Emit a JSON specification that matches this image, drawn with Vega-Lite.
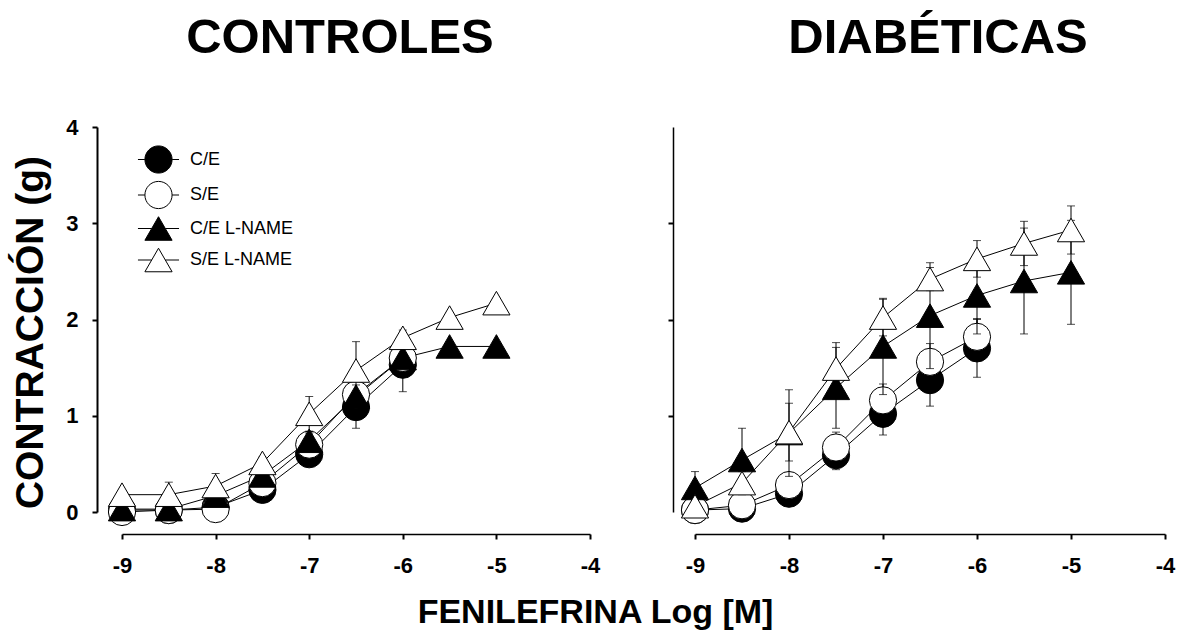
{
  "$schema": "https://vega.github.io/schema/vega-lite/v6.json",
  "autosize": {"type": "pad"},
  "padding": {"left": 11, "top": 14, "right": 5, "bottom": 5},
  "background": "white",
  "datasets": {
    "curves": [
      {"panel": "CONTROLES", "series": "C/E", "logM": -9, "g": 0.02, "se": 0.01},
      {"panel": "CONTROLES", "series": "C/E", "logM": -8.5, "g": 0.02, "se": 0.01},
      {"panel": "CONTROLES", "series": "C/E", "logM": -8, "g": 0.05, "se": 0.02},
      {"panel": "CONTROLES", "series": "C/E", "logM": -7.5, "g": 0.23, "se": 0.05},
      {"panel": "CONTROLES", "series": "C/E", "logM": -7, "g": 0.60, "se": 0.07},
      {"panel": "CONTROLES", "series": "C/E", "logM": -6.5, "g": 1.09, "se": 0.22},
      {"panel": "CONTROLES", "series": "C/E", "logM": -6, "g": 1.53, "se": 0.28},
      {"panel": "CONTROLES", "series": "S/E", "logM": -9, "g": 0.00, "se": 0.02},
      {"panel": "CONTROLES", "series": "S/E", "logM": -8.5, "g": 0.02, "se": 0.02},
      {"panel": "CONTROLES", "series": "S/E", "logM": -8, "g": 0.03, "se": 0.07},
      {"panel": "CONTROLES", "series": "S/E", "logM": -7.5, "g": 0.30, "se": 0.05},
      {"panel": "CONTROLES", "series": "S/E", "logM": -7, "g": 0.70, "se": 0.08},
      {"panel": "CONTROLES", "series": "S/E", "logM": -6.5, "g": 1.22, "se": 0.10},
      {"panel": "CONTROLES", "series": "S/E", "logM": -6, "g": 1.60, "se": 0.10},
      {"panel": "CONTROLES", "series": "C/E L-NAME", "logM": -9, "g": 0.03, "se": 0.02},
      {"panel": "CONTROLES", "series": "C/E L-NAME", "logM": -8.5, "g": 0.03, "se": 0.02},
      {"panel": "CONTROLES", "series": "C/E L-NAME", "logM": -8, "g": 0.17, "se": 0.05},
      {"panel": "CONTROLES", "series": "C/E L-NAME", "logM": -7.5, "g": 0.38, "se": 0.06},
      {"panel": "CONTROLES", "series": "C/E L-NAME", "logM": -7, "g": 0.74, "se": 0.08},
      {"panel": "CONTROLES", "series": "C/E L-NAME", "logM": -6.5, "g": 1.20, "se": 0.12},
      {"panel": "CONTROLES", "series": "C/E L-NAME", "logM": -6, "g": 1.60, "se": 0.10},
      {"panel": "CONTROLES", "series": "C/E L-NAME", "logM": -5.5, "g": 1.72, "se": 0.05},
      {"panel": "CONTROLES", "series": "C/E L-NAME", "logM": -5, "g": 1.72, "se": 0.05},
      {"panel": "CONTROLES", "series": "S/E L-NAME", "logM": -9, "g": 0.18, "se": 0.05},
      {"panel": "CONTROLES", "series": "S/E L-NAME", "logM": -8.5, "g": 0.18, "se": 0.13},
      {"panel": "CONTROLES", "series": "S/E L-NAME", "logM": -8, "g": 0.27, "se": 0.13},
      {"panel": "CONTROLES", "series": "S/E L-NAME", "logM": -7.5, "g": 0.51, "se": 0.06},
      {"panel": "CONTROLES", "series": "S/E L-NAME", "logM": -7, "g": 1.02, "se": 0.18},
      {"panel": "CONTROLES", "series": "S/E L-NAME", "logM": -6.5, "g": 1.47, "se": 0.30},
      {"panel": "CONTROLES", "series": "S/E L-NAME", "logM": -6, "g": 1.81, "se": 0.08},
      {"panel": "CONTROLES", "series": "S/E L-NAME", "logM": -5.5, "g": 2.02, "se": 0.05},
      {"panel": "CONTROLES", "series": "S/E L-NAME", "logM": -5, "g": 2.17, "se": 0.05},
      {"panel": "DIABÉTICAS", "series": "C/E", "logM": -9, "g": 0.02, "se": 0.02},
      {"panel": "DIABÉTICAS", "series": "C/E", "logM": -8.5, "g": 0.035, "se": 0.03},
      {"panel": "DIABÉTICAS", "series": "C/E", "logM": -8, "g": 0.19, "se": 0.05},
      {"panel": "DIABÉTICAS", "series": "C/E", "logM": -7.5, "g": 0.59, "se": 0.15},
      {"panel": "DIABÉTICAS", "series": "C/E", "logM": -7, "g": 1.02, "se": 0.22},
      {"panel": "DIABÉTICAS", "series": "C/E", "logM": -6.5, "g": 1.37, "se": 0.27},
      {"panel": "DIABÉTICAS", "series": "C/E", "logM": -6, "g": 1.70, "se": 0.30},
      {"panel": "DIABÉTICAS", "series": "S/E", "logM": -9, "g": 0.02, "se": 0.02},
      {"panel": "DIABÉTICAS", "series": "S/E", "logM": -8.5, "g": 0.07, "se": 0.03},
      {"panel": "DIABÉTICAS", "series": "S/E", "logM": -8, "g": 0.28, "se": 0.07},
      {"panel": "DIABÉTICAS", "series": "S/E", "logM": -7.5, "g": 0.67, "se": 0.16},
      {"panel": "DIABÉTICAS", "series": "S/E", "logM": -7, "g": 1.16, "se": 0.17},
      {"panel": "DIABÉTICAS", "series": "S/E", "logM": -6.5, "g": 1.56, "se": 0.19},
      {"panel": "DIABÉTICAS", "series": "S/E", "logM": -6, "g": 1.82, "se": 0.19},
      {"panel": "DIABÉTICAS", "series": "C/E L-NAME", "logM": -9, "g": 0.25, "se": 0.17},
      {"panel": "DIABÉTICAS", "series": "C/E L-NAME", "logM": -8.5, "g": 0.54, "se": 0.33},
      {"panel": "DIABÉTICAS", "series": "C/E L-NAME", "logM": -8, "g": 0.82, "se": 0.45},
      {"panel": "DIABÉTICAS", "series": "C/E L-NAME", "logM": -7.5, "g": 1.29, "se": 0.42},
      {"panel": "DIABÉTICAS", "series": "C/E L-NAME", "logM": -7, "g": 1.72, "se": 0.50},
      {"panel": "DIABÉTICAS", "series": "C/E L-NAME", "logM": -6.5, "g": 2.04, "se": 0.55},
      {"panel": "DIABÉTICAS", "series": "C/E L-NAME", "logM": -6, "g": 2.25, "se": 0.40},
      {"panel": "DIABÉTICAS", "series": "C/E L-NAME", "logM": -5.5, "g": 2.40, "se": 0.55},
      {"panel": "DIABÉTICAS", "series": "C/E L-NAME", "logM": -5, "g": 2.49, "se": 0.54},
      {"panel": "DIABÉTICAS", "series": "S/E L-NAME", "logM": -9, "g": 0.06, "se": 0.03},
      {"panel": "DIABÉTICAS", "series": "S/E L-NAME", "logM": -8.5, "g": 0.30, "se": 0.12},
      {"panel": "DIABÉTICAS", "series": "S/E L-NAME", "logM": -8, "g": 0.83, "se": 0.30},
      {"panel": "DIABÉTICAS", "series": "S/E L-NAME", "logM": -7.5, "g": 1.49, "se": 0.27},
      {"panel": "DIABÉTICAS", "series": "S/E L-NAME", "logM": -7, "g": 2.02, "se": 0.19},
      {"panel": "DIABÉTICAS", "series": "S/E L-NAME", "logM": -6.5, "g": 2.42, "se": 0.12},
      {"panel": "DIABÉTICAS", "series": "S/E L-NAME", "logM": -6, "g": 2.63, "se": 0.19},
      {"panel": "DIABÉTICAS", "series": "S/E L-NAME", "logM": -5.5, "g": 2.79, "se": 0.23},
      {"panel": "DIABÉTICAS", "series": "S/E L-NAME", "logM": -5, "g": 2.93, "se": 0.25}
    ]
  },
  "data": {"name": "curves"},
  "bounds": "flush",
  "spacing": 105,
  "resolve": {"scale": {"fill": "independent", "shape": "independent", "stroke": "independent"}},
  "hconcat": [
    {
      "width": 468,
      "height": 385,
      "title": {"text": "CONTROLES", "dx": -16, "frame": "group", "anchor": "middle", "offset": 53, "font": "Liberation Sans", "fontSize": 49, "fontWeight": "bold", "color": "black"},
      "transform": [{"filter": "datum.panel === 'CONTROLES'"}],
      "encoding": {
        "x": {"field": "logM", "type": "quantitative", "scale": {"domain": [-9, -4]},
              "axis": {"values": [-9, -8, -7, -6, -5, -4], "labelExpr": "'' + datum.value", "offset": 22, "labelPadding": 16,
                       "title": "FENILEFRINA Log [M]", "titleFontSize": 34, "titleX": 473, "titleY": 88, "titleAlign": "center", "titleBaseline": "alphabetic", "titleAngle": 0}},
        "y": {"field": "g", "type": "quantitative", "scale": {"domain": [0, 4]},
              "axis": {"values": [0, 1, 2, 3, 4], "format": "d", "offset": 25, "labelPadding": 14, "domainWidth": 2,
                       "title": "CONTRACCIÓN (g)", "titleFontSize": 39, "titleX": -55, "titleY": 205, "titleAngle": -90, "titleAlign": "center", "titleBaseline": "alphabetic"}}
      },
      "layer": [
        {"mark": {"type": "point", "filled": true, "opacity": 0, "size": 740},
         "encoding": {
           "shape": {"field": "series", "type": "nominal", "scale": {"domain": ["C/E", "S/E", "C/E L-NAME", "S/E L-NAME"],
                     "range": ["M-1.51,0L-1,0M1,0L1.51,0M1,0A1,1,0,1,1,-1,0A1,1,0,1,1,1,0Z", "M-1.51,0L-1,0M1,0L1.51,0M1,0A1,1,0,1,1,-1,0A1,1,0,1,1,1,0Z", "M-1.51,0L-0.5,0M0.5,0L1.51,0M0,-0.866L-1,0.866L1,0.866Z", "M-1.51,0L-0.5,0M0.5,0L1.51,0M0,-0.866L-1,0.866L1,0.866Z"]},
                     "legend": {"orient": "none", "legendX": 22, "legendY": 18, "title": null, "symbolSize": 740, "labelOffset": 17, "rowPadding": 2.5, "padding": 0, "symbolStrokeColor": "black", "symbolStrokeWidth": 1, "symbolOpacity": 1}},
           "fill": {"field": "series", "type": "nominal", "scale": {"domain": ["C/E", "S/E", "C/E L-NAME", "S/E L-NAME"], "range": ["black", "white", "black", "white"]},
                    "legend": {"orient": "none", "legendX": 22, "legendY": 18, "title": null, "symbolSize": 740, "labelOffset": 17, "rowPadding": 2.5, "padding": 0, "symbolStrokeColor": "black", "symbolStrokeWidth": 1, "symbolOpacity": 1}},
           "stroke": {"field": "series", "type": "nominal", "scale": {"domain": ["C/E", "S/E", "C/E L-NAME", "S/E L-NAME"], "range": ["black", "black", "black", "black"]},
                      "legend": {"orient": "none", "legendX": 22, "legendY": 18, "title": null, "symbolSize": 740, "labelOffset": 17, "rowPadding": 2.5, "padding": 0, "symbolStrokeColor": "black", "symbolStrokeWidth": 1, "symbolOpacity": 1}}
         }},
        {"mark": {"type": "line", "color": "black", "strokeWidth": 1}, "encoding": {"detail": {"field": "series"}}},
        {"transform": [{"filter": "datum.series === 'C/E'"}], "mark": {"type": "errorbar", "ticks": true, "color": "black", "thickness": 1, "size": 8}, "encoding": {"yError": {"field": "se"}}},
        {"transform": [{"filter": "datum.series === 'C/E'"}], "mark": {"type": "point", "shape": "circle", "filled": true, "size": 740, "stroke": "black", "strokeWidth": 1, "opacity": 1},
         "encoding": {"fill": {"field": "series", "type": "nominal"}}},
        {"transform": [{"filter": "datum.series === 'S/E'"}], "mark": {"type": "errorbar", "ticks": true, "color": "black", "thickness": 1, "size": 8}, "encoding": {"yError": {"field": "se"}}},
        {"transform": [{"filter": "datum.series === 'S/E'"}], "mark": {"type": "point", "shape": "circle", "filled": true, "size": 740, "stroke": "black", "strokeWidth": 1, "opacity": 1},
         "encoding": {"fill": {"field": "series", "type": "nominal"}}},
        {"transform": [{"filter": "datum.series === 'C/E L-NAME'"}], "mark": {"type": "errorbar", "ticks": true, "color": "black", "thickness": 1, "size": 8}, "encoding": {"yError": {"field": "se"}}},
        {"transform": [{"filter": "datum.series === 'C/E L-NAME'"}], "mark": {"type": "point", "shape": "triangle-up", "filled": true, "size": 740, "stroke": "black", "strokeWidth": 1, "opacity": 1},
         "encoding": {"fill": {"field": "series", "type": "nominal"}}},
        {"transform": [{"filter": "datum.series === 'S/E L-NAME'"}], "mark": {"type": "errorbar", "ticks": true, "color": "black", "thickness": 1, "size": 8}, "encoding": {"yError": {"field": "se"}}},
        {"transform": [{"filter": "datum.series === 'S/E L-NAME'"}], "mark": {"type": "point", "shape": "triangle-up", "filled": true, "size": 740, "stroke": "black", "strokeWidth": 1, "opacity": 1},
         "encoding": {"fill": {"field": "series", "type": "nominal"}}}
      ]
    },
    {
      "width": 470,
      "height": 385,
      "title": {"text": "DIABÉTICAS", "dx": 8, "frame": "group", "anchor": "middle", "offset": 64, "font": "Liberation Sans", "fontSize": 49, "fontWeight": "bold", "color": "black"},
      "transform": [{"filter": "datum.panel === 'DIABÉTICAS'"}],
      "encoding": {
        "x": {"field": "logM", "type": "quantitative", "scale": {"domain": [-9, -4]},
              "axis": {"values": [-9, -8, -7, -6, -5, -4], "labelExpr": "'' + datum.value", "offset": 22, "labelPadding": 16, "title": null}},
        "y": {"field": "g", "type": "quantitative", "scale": {"domain": [0, 4]},
              "axis": {"values": [1, 2, 3], "labels": false, "offset": 22, "title": null}}
      },
      "layer": [
        {"mark": {"type": "line", "color": "black", "strokeWidth": 1}, "encoding": {"detail": {"field": "series"}}},
        {"transform": [{"filter": "datum.series === 'C/E'"}], "mark": {"type": "errorbar", "ticks": true, "color": "black", "thickness": 1, "size": 8}, "encoding": {"yError": {"field": "se"}}},
        {"transform": [{"filter": "datum.series === 'C/E'"}], "mark": {"type": "point", "shape": "circle", "filled": true, "size": 740, "stroke": "black", "strokeWidth": 1, "opacity": 1},
         "encoding": {"fill": {"field": "series", "type": "nominal", "scale": {"domain": ["C/E", "S/E", "C/E L-NAME", "S/E L-NAME"], "range": ["black", "white", "black", "white"]}, "legend": null}}},
        {"transform": [{"filter": "datum.series === 'S/E'"}], "mark": {"type": "errorbar", "ticks": true, "color": "black", "thickness": 1, "size": 8}, "encoding": {"yError": {"field": "se"}}},
        {"transform": [{"filter": "datum.series === 'S/E'"}], "mark": {"type": "point", "shape": "circle", "filled": true, "size": 740, "stroke": "black", "strokeWidth": 1, "opacity": 1},
         "encoding": {"fill": {"field": "series", "type": "nominal", "legend": null}}},
        {"transform": [{"filter": "datum.series === 'C/E L-NAME'"}], "mark": {"type": "errorbar", "ticks": true, "color": "black", "thickness": 1, "size": 8}, "encoding": {"yError": {"field": "se"}}},
        {"transform": [{"filter": "datum.series === 'C/E L-NAME'"}], "mark": {"type": "point", "shape": "triangle-up", "filled": true, "size": 740, "stroke": "black", "strokeWidth": 1, "opacity": 1},
         "encoding": {"fill": {"field": "series", "type": "nominal", "legend": null}}},
        {"transform": [{"filter": "datum.series === 'S/E L-NAME'"}], "mark": {"type": "errorbar", "ticks": true, "color": "black", "thickness": 1, "size": 8}, "encoding": {"yError": {"field": "se"}}},
        {"transform": [{"filter": "datum.series === 'S/E L-NAME'"}], "mark": {"type": "point", "shape": "triangle-up", "filled": true, "size": 740, "stroke": "black", "strokeWidth": 1, "opacity": 1},
         "encoding": {"fill": {"field": "series", "type": "nominal", "legend": null}}}
      ]
    }
  ],
  "config": {
    "view": {"stroke": null},
    "font": "Liberation Sans",
    "axis": {"grid": false, "domainColor": "black", "domainWidth": 1.5, "tickColor": "black", "tickWidth": 2, "tickSize": 5,
             "labelColor": "black", "labelFont": "Liberation Sans", "labelFontSize": 22, "labelFontWeight": "bold", "labelFlush": false, "labelOverlap": false,
             "titleFont": "Liberation Sans", "titleFontWeight": "bold", "titleColor": "black"},
    "legend": {"labelFont": "Liberation Sans", "labelFontSize": 18, "labelColor": "black", "labelFontWeight": "normal"}
  }
}
